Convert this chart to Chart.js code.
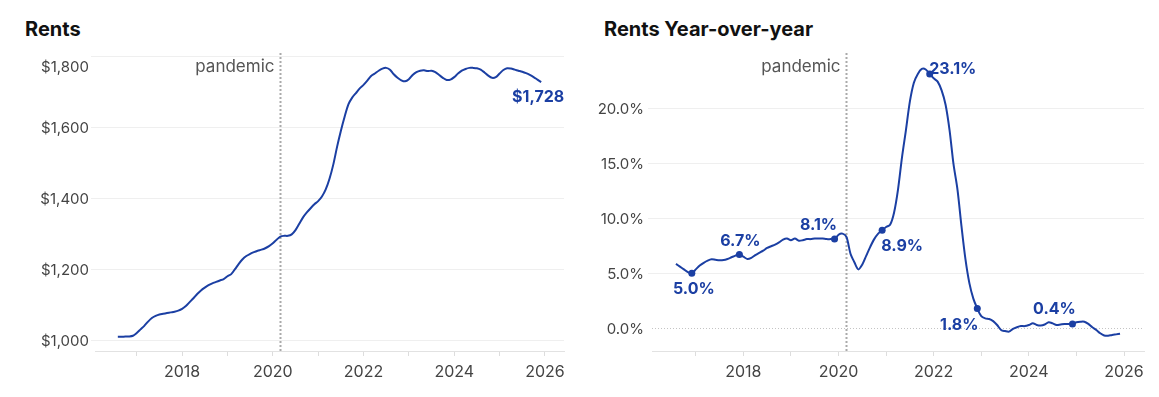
<!DOCTYPE html>
<html>
<head>
<meta charset="utf-8">
<script src="https://cdn.jsdelivr.net/npm/chart.js@4.4.1/dist/chart.umd.min.js"></script>
<style>
  body { margin: 0; background: #fff; font-family: Inter, sans-serif; }
  .title { position: absolute; top: 17px; font-weight: 700; font-size: 20px; color: #111; }
  canvas { position: absolute; top: 0; }
</style>
</head>
<body>
<div class="title" style="left:25px">Rents</div>
<div class="title" style="left:604px">Rents Year-over-year</div>
<canvas id="rents" width="580" height="397" style="left:0"></canvas>
<canvas id="yoy" width="579" height="397" style="left:580px"></canvas>
<script>
// monthly series, Aug 2016 .. Dec 2025
const firstYear = 2016;
const firstMonth = 8;

const rents = [
  1009, 1009, 1010, 1010, 1012,
  1020, 1030, 1040, 1052, 1062, 1068, 1072, 1074, 1076, 1078, 1080, 1083,
  1088, 1096, 1107, 1118, 1130, 1140, 1148, 1155, 1160, 1164, 1168, 1172,
  1180, 1186, 1200, 1215, 1228, 1237, 1243, 1248, 1252, 1255, 1259, 1265,
  1273, 1283, 1292, 1294, 1294, 1298, 1310, 1328, 1346, 1360, 1372, 1383,
  1392, 1405, 1425, 1455, 1495, 1545, 1590, 1630, 1665, 1684, 1697, 1710,
  1720, 1732, 1745, 1752, 1760, 1766, 1768, 1763, 1750, 1740, 1733, 1730,
  1736, 1748, 1756, 1760, 1761, 1759, 1760, 1756, 1748, 1740, 1734, 1735,
  1742, 1752, 1760, 1765, 1768, 1768, 1767, 1763, 1755, 1746, 1740, 1742,
  1752, 1762, 1767, 1766, 1763, 1760, 1757, 1753, 1748, 1742, 1735, 1728
];

const rentsYoY = [
  5.85, 5.6, 5.35, 5.1, 5.0,
  5.35, 5.7, 5.95, 6.15, 6.27, 6.22, 6.18, 6.2, 6.3, 6.45, 6.6, 6.7,
  6.5, 6.3, 6.4, 6.65, 6.85, 7.05, 7.3, 7.45, 7.6, 7.8, 8.05, 8.15,
  8.0, 8.15, 7.95, 8.0, 8.1, 8.1, 8.15, 8.15, 8.15, 8.1, 8.1, 8.1,
  8.5, 8.6, 8.3, 6.8, 6.0, 5.35, 5.8, 6.6, 7.4, 8.1, 8.6, 8.9,
  9.2, 9.4, 10.5, 12.6, 15.5, 18.0, 20.6, 22.3, 23.1, 23.55, 23.5, 23.1,
  22.7, 22.4, 21.6, 20.3, 18.0, 14.9, 12.6, 9.3, 6.3, 4.1, 2.7, 1.8,
  1.1, 0.9, 0.85, 0.65, 0.3, -0.15, -0.25, -0.3, -0.05, 0.1, 0.2, 0.2,
  0.3, 0.45, 0.3, 0.25, 0.35, 0.55, 0.45, 0.3, 0.35, 0.4, 0.4, 0.4,
  0.55, 0.6, 0.6, 0.4, 0.1, -0.15, -0.45, -0.65, -0.68, -0.6, -0.55, -0.5
];

const yearTicks = [2017, 2018, 2019, 2020, 2021, 2022, 2023, 2024, 2025, 2026];
const yearLabels = [2018, 2020, 2022, 2024, 2026];
const rentTicks = [1000, 1200, 1400, 1600, 1800];
const yoyTicks = [0, 5, 10, 15, 20];
const pandemicAt = 2020 + 2 / 12; // March 2020

// which months get a callout
const rentNotes = [{ month: '2025-12', dx: -3, dy: 15, dot: false }];
const yoyNotes = [
  { month: '2016-12', dx: 2, dy: 16 },
  { month: '2017-12', dx: 1, dy: -13 },
  { month: '2019-12', dx: -16, dy: -14 },
  { month: '2020-12', dx: 20, dy: 16 },
  { month: '2021-12', dx: 23, dy: -5 },
  { month: '2022-12', dx: -18, dy: 17 },
  { month: '2024-12', dx: -18, dy: -15 }
];

const BLUE = '#1b3fa3';

const monthIndex = key => {
  const [yy, mm] = key.split('-').map(Number);
  return (yy - firstYear) * 12 + (mm - firstMonth);
};
const toPoints = values => values.map((v, i) => ({ x: firstYear + (firstMonth - 1 + i) / 12, y: v }));

const overlay = {
  id: 'overlay',
  beforeDatasetsDraw(chart, args, o) {
    const { ctx, chartArea: a, scales: { x, y } } = chart;
    ctx.save();
    if (o.zeroLine) {
      const zy = Math.round(y.getPixelForValue(0)) + 0.5;
      ctx.strokeStyle = '#c4c4c4';
      ctx.lineWidth = 1;
      ctx.setLineDash([1, 2]);
      ctx.beginPath(); ctx.moveTo(a.left, zy); ctx.lineTo(a.right, zy); ctx.stroke();
    }
    const px = Math.round(x.getPixelForValue(pandemicAt)) + 0.5;
    ctx.strokeStyle = '#aaaaaa';
    ctx.lineWidth = 2;
    ctx.setLineDash([2, 2]);
    ctx.beginPath(); ctx.moveTo(px, a.top); ctx.lineTo(px, a.bottom); ctx.stroke();
    ctx.setLineDash([]);
    ctx.font = '17px Inter';
    ctx.fillStyle = '#555';
    ctx.textAlign = 'right';
    ctx.textBaseline = 'middle';
    ctx.fillText('pandemic', px - 6, a.top + 14);

    // y tick labels (top one nudged down like the original)
    ctx.font = '15px Inter';
    ctx.fillStyle = '#444';
    y.ticks.forEach(t => {
      let ty = y.getPixelForValue(t.value) + 1.5;
      if (ty - a.top < 8) ty = a.top + 14;
      ctx.fillText(o.fmt(t.value), a.left - o.gap, ty);
    });
    ctx.restore();
  },
  afterDatasetsDraw(chart, args, o) {
    const { ctx } = chart;
    const meta = chart.getDatasetMeta(0);
    const values = chart.data.datasets[0].data;
    ctx.save();
    ctx.font = 'bold 16px Inter';
    ctx.fillStyle = BLUE;
    ctx.textAlign = 'center';
    ctx.textBaseline = 'middle';
    o.notes.forEach(n => {
      const i = monthIndex(n.month);
      const p = meta.data[i];
      ctx.fillText(o.fmt(values[i].y), p.x + n.dx, p.y + n.dy);
    });
    ctx.restore();
  }
};

function makeChart(id, values, cfg) {
  const dotIdx = cfg.notes.filter(n => n.dot !== false).map(n => monthIndex(n.month));
  return new Chart(document.getElementById(id), {
    type: 'line',
    data: {
      datasets: [{
        data: toPoints(values),
        borderColor: BLUE,
        borderWidth: 2,
        tension: 0.3,
        pointRadius: c => (dotIdx.includes(c.dataIndex) ? 3.5 : 0),
        pointBackgroundColor: BLUE,
        pointBorderWidth: 0
      }]
    },
    options: {
      responsive: false,
      animation: false,
      events: [],
      layout: { padding: { top: 53, right: cfg.right, left: 0, bottom: 0 } },
      plugins: {
        legend: { display: false },
        tooltip: { enabled: false },
        overlay: { fmt: cfg.fmt, gap: cfg.gap, zeroLine: cfg.zeroLine, notes: cfg.notes }
      },
      scales: {
        x: {
          type: 'linear',
          min: 2016.08,
          max: 2026.42,
          afterBuildTicks: s => { s.ticks = yearTicks.map(v => ({ value: v })); },
          ticks: {
            autoSkip: false,
            maxRotation: 0,
            padding: 7,
            color: '#444',
            font: { family: 'Inter', size: 16 },
            callback: v => (yearLabels.includes(v) ? String(v) : '')
          },
          grid: { drawOnChartArea: false, drawTicks: true, tickLength: 5, tickColor: '#dddddd' },
          border: { color: '#e2e2e2' },
          afterFit: s => { s.height = 46; }
        },
        y: {
          min: cfg.min,
          max: cfg.max,
          afterBuildTicks: s => { s.ticks = cfg.ticks.map(v => ({ value: v })); },
          ticks: { display: false },
          grid: {
            color: c => (cfg.zeroLine && c.tick && c.tick.value === 0 ? 'rgba(0,0,0,0)' : '#efefef'),
            drawTicks: true,
            tickLength: 4,
            tickColor: c => (cfg.zeroLine && c.tick && c.tick.value === 0 ? 'rgba(0,0,0,0)' : '#efefef')
          },
          border: { display: false },
          afterFit: s => { s.width = cfg.axisWidth; }
        }
      }
    },
    plugins: [overlay]
  });
}

makeChart('rents', rents, {
  min: 969, max: 1810, ticks: rentTicks, axisWidth: 95, right: 16, gap: 6,
  zeroLine: false, notes: rentNotes,
  fmt: v => '$' + Math.round(v).toLocaleString('en-US')
});

makeChart('yoy', rentsYoY, {
  min: -2.06, max: 25, ticks: yoyTicks, axisWidth: 72, right: 15, gap: 8,
  zeroLine: true, notes: yoyNotes,
  fmt: v => v.toFixed(1) + '%'
});
</script>
</body>
</html>
